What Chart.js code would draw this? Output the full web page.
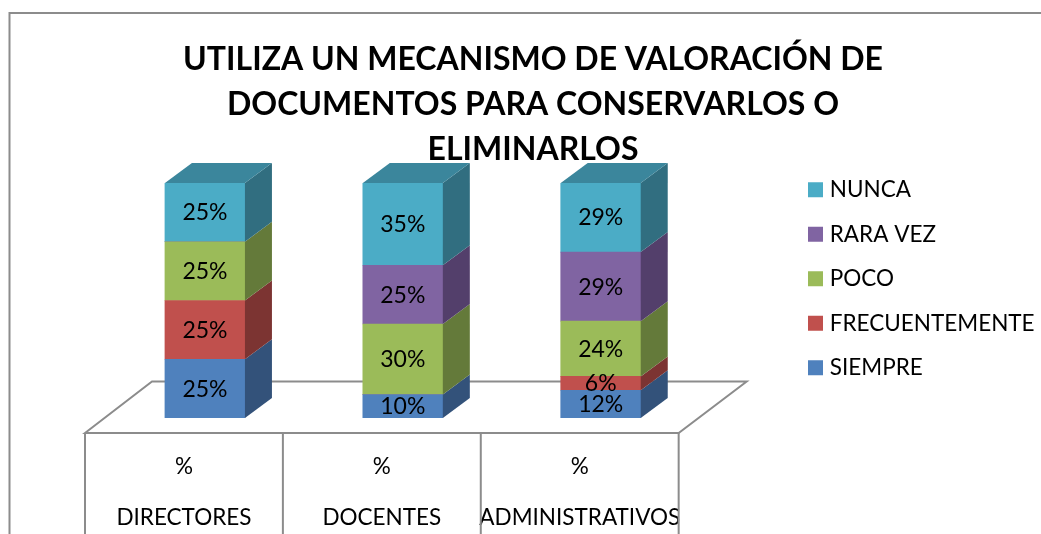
<!DOCTYPE html>
<html>
<head>
<meta charset="utf-8">
<script src="https://cdn.jsdelivr.net/npm/chart.js@4/dist/chart.umd.min.js"></script>
<style>
html,body{margin:0;padding:0;background:#fff;overflow:hidden}
#wrap{position:relative;width:1041px;height:534px}
canvas{display:block}
</style>
</head>
<body>
<div id="wrap"><canvas id="c" width="1041" height="534"></canvas></div>
<script>
const titleLines = ['UTILIZA UN MECANISMO DE VALORACIÓN DE', 'DOCUMENTOS PARA CONSERVARLOS O', 'ELIMINARLOS'];
const categories = [['%', 'DIRECTORES'], ['%', 'DOCENTES'], ['%', 'ADMINISTRATIVOS']];
const siempre = [25, 10, 11.8];
const frecuentemente = [25, 0, 5.9];
const poco = [25, 30, 23.5];
const rara = [0, 25, 29.4];
const nunca = [25, 35, 29.4];
const seriesNames = ['SIEMPRE', 'FRECUENTEMENTE', 'POCO', 'RARA VEZ', 'NUNCA'];
const front = ['#4F81BD', '#C0504D', '#9BBB59', '#8064A2', '#4BACC6'];
const side = ['#33527A', '#7C3432', '#647A3A', '#533F6B', '#316E80'];
const top_ = ['#3E6695', '#984040', '#7B9447', '#665082', '#3B869C'];
const FONT = 'Lato, Carlito, sans-serif';
const DX = 27, DY = 20, GREY = '#8C8C8C';

const scene = {
  id: 'scene',
  afterLayout(chart) {
    const l = chart.legend;
    l.left = 790.5; l.right = 1041; l.top = 156.5; l.bottom = 534;
  },
  beforeDatasetsDraw(chart) {
    const {ctx, scales: {x, y}} = chart;
    const half = (x.getPixelForTick(1) - x.getPixelForTick(0)) / 2;
    const fl = x.getPixelForTick(0) - half - 21;
    const fr = x.getPixelForTick(2) + half - 21;
    const fy = y.bottom + 15, by = fy - 51.5;
    ctx.save();
    ctx.strokeStyle = GREY; ctx.lineWidth = 2;
    // sheet border
    ctx.beginPath(); ctx.moveTo(9.5, 534); ctx.lineTo(9.5, 13); ctx.lineTo(1041, 13); ctx.stroke();
    // floor
    ctx.beginPath();
    ctx.moveTo(fl, fy); ctx.lineTo(fl + 67, by); ctx.lineTo(fr + 68, by); ctx.lineTo(fr, fy); ctx.closePath();
    ctx.stroke();
    // table cell separators
    ctx.beginPath();
    for (let i = 0; i <= 3; i++) {
      const px = fl + i * half * 2;
      ctx.moveTo(px, fy); ctx.lineTo(px, 534);
    }
    ctx.stroke();
    ctx.restore();
  },
  afterDatasetsDraw(chart) {
    const {ctx} = chart;
    ctx.save();
    const n = chart.data.datasets.length;
    for (let d = 0; d < n; d++) {
      chart.getDatasetMeta(d).data.forEach((b, i) => {
        if (!chart.data.datasets[d].data[i]) return;
        const r = b.x + b.width / 2, t = b.y, bt = b.base;
        ctx.fillStyle = side[d];
        ctx.beginPath();
        ctx.moveTo(r, t); ctx.lineTo(r + DX, t - DY); ctx.lineTo(r + DX, bt - DY); ctx.lineTo(r, bt);
        ctx.closePath(); ctx.fill();
        let above = false;
        for (let k = d + 1; k < n; k++) if (chart.data.datasets[k].data[i]) above = true;
        if (!above) {
          const lft = b.x - b.width / 2;
          ctx.fillStyle = top_[d];
          ctx.beginPath();
          ctx.moveTo(lft, t); ctx.lineTo(lft + DX, t - DY); ctx.lineTo(r + DX, t - DY); ctx.lineTo(r, t);
          ctx.closePath(); ctx.fill();
        }
      });
    }
    ctx.fillStyle = '#000';
    ctx.font = '23px ' + FONT;
    ctx.textAlign = 'center'; ctx.textBaseline = 'middle';
    for (let d = 0; d < n; d++) {
      chart.getDatasetMeta(d).data.forEach((b, i) => {
        const v = chart.data.datasets[d].data[i];
        if (!v) return;
        ctx.fillText(Math.round(v) + '%', b.x, (b.y + b.base) / 2 + 0.5);
      });
    }
    ctx.restore();
  }
};

const values = [siempre, frecuentemente, poco, rara, nunca];
new Chart(document.getElementById('c'), {
  type: 'bar',
  plugins: [scene],
  data: {
    labels: categories,
    datasets: seriesNames.map((name, i) => ({
      label: name,
      data: values[i],
      backgroundColor: front[i],
      borderWidth: 0,
      barThickness: 80
    }))
  },
  options: {
    responsive: false,
    animation: false,
    layout: {padding: {left: 25, top: 37, right: 0, bottom: 0}},
    plugins: {
      tooltip: {enabled: false},
      title: {
        display: true,
        text: titleLines,
        color: '#000',
        font: {family: FONT, size: 32, weight: 'bold', lineHeight: 1.406},
        padding: {top: 0, bottom: 11}
      },
      legend: {
        position: 'right',
        reverse: true,
        align: 'start',
        labels: {
          color: '#000',
          font: {family: FONT, size: 22.5},
          usePointStyle: true,
          pointStyle: 'rect',
          boxWidth: 6,
          boxHeight: 15,
          padding: 22
        }
      }
    },
    scales: {
      x: {
        stacked: true,
        grid: {display: false, drawTicks: false},
        border: {display: false},
        afterFit(s) { s.height = 116; },
        ticks: {
          color: '#000',
          font: {family: FONT, size: 22.5, lineHeight: 2.27},
          padding: 23,
          labelOffset: -21,
          maxRotation: 0, minRotation: 0,
          autoSkip: false
        }
      },
      y: {
        stacked: true,
        min: 0, max: 100,
        grid: {display: false},
        border: {display: false},
        ticks: {display: false},
        afterFit(s) { s.width = 81; }
      },
      pad: {
        type: 'linear',
        position: 'right',
        grid: {display: false},
        border: {display: false},
        ticks: {display: false},
        afterFit(s) { s.width = 172; }
      }
    }
  }
});
</script>
</body>
</html>
